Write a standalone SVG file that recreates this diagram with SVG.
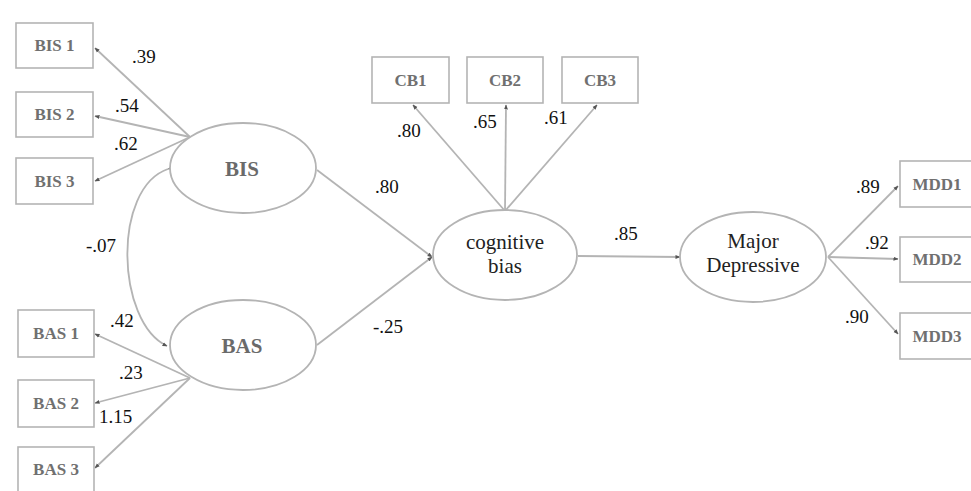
<svg xmlns="http://www.w3.org/2000/svg" width="971" height="491" viewBox="0 0 971 491">
<style>
.box{fill:#fff;stroke:#b4b4b4;stroke-width:1.6}
.ell{fill:#fff;stroke:#b4b4b4;stroke-width:1.8}
.ln{fill:none;stroke:#b4b4b4;stroke-width:1.8}
text{font-family:"Liberation Serif","Times New Roman","DejaVu Serif",serif}
.bl{font-weight:bold;font-size:17px;fill:#707070;text-anchor:middle}
.el{font-weight:bold;font-size:21px;fill:#6a6a6a;text-anchor:middle}
.et{font-size:21px;fill:#222;text-anchor:middle}
.num{font-size:19px;fill:#111}
</style>
<defs>
<marker id="ah" viewBox="0 0 10 10" refX="9" refY="5" markerWidth="5" markerHeight="5" orient="auto" markerUnits="userSpaceOnUse">
<path d="M0,1 L10,5 L0,9 Z" fill="#555"/>
</marker>
</defs>
<rect width="971" height="491" fill="#fff"/>
<g id="connectors">
<path class="ln" d="M190,137 L95,48" marker-end="url(#ah)"/>
<path class="ln" d="M190,137 L95,116" marker-end="url(#ah)"/>
<path class="ln" d="M190,137 L95,181" marker-end="url(#ah)"/>
<path class="ln" d="M190,378 L95,334" marker-end="url(#ah)"/>
<path class="ln" d="M190,378 L95,403" marker-end="url(#ah)"/>
<path class="ln" d="M190,378 L95,468" marker-end="url(#ah)"/>
<path class="ln" d="M168,169 C112,188 116,322 167,346" marker-start="url(#ah)" marker-end="url(#ah)"/>
<path class="ln" d="M317,170 L432,257" marker-end="url(#ah)"/>
<path class="ln" d="M317,345 L432,257" marker-end="url(#ah)"/>
<path class="ln" d="M505,211 L413,105" marker-end="url(#ah)"/>
<path class="ln" d="M505,211 L506,105" marker-end="url(#ah)"/>
<path class="ln" d="M505,211 L597,105" marker-end="url(#ah)"/>
<path class="ln" d="M578,256 L680,257" stroke-width="2.6" marker-end="url(#ah)"/>
<path class="ln" d="M828,257 L898,186" marker-end="url(#ah)"/>
<path class="ln" d="M828,257 L898,259" marker-end="url(#ah)"/>
<path class="ln" d="M828,257 L898,334" marker-end="url(#ah)"/>
</g>
<g id="BIS1"><rect class="box" x="16" y="23" width="77" height="45"/><text class="bl" x="54.5" y="51">BIS 1</text></g>
<g id="BIS2"><rect class="box" x="16" y="92" width="77" height="45"/><text class="bl" x="54.5" y="120">BIS 2</text></g>
<g id="BIS3"><rect class="box" x="16" y="158" width="77" height="46"/><text class="bl" x="54.5" y="187">BIS 3</text></g>
<g id="BAS1"><rect class="box" x="18" y="310" width="76" height="47"/><text class="bl" x="56" y="339">BAS 1</text></g>
<g id="BAS2"><rect class="box" x="18" y="380" width="76" height="47"/><text class="bl" x="56" y="409">BAS 2</text></g>
<g id="BAS3"><rect class="box" x="18" y="447" width="76" height="47"/><text class="bl" x="56" y="475">BAS 3</text></g>
<g id="BIS"><ellipse class="ell" cx="243" cy="168" rx="73" ry="45"/><text class="el" x="242" y="176">BIS</text></g>
<g id="BAS"><ellipse class="ell" cx="243" cy="345" rx="73" ry="45"/><text class="el" x="242" y="353">BAS</text></g>
<g id="CB1"><rect class="box" x="372" y="57" width="77" height="46"/><text class="bl" x="410.5" y="86">CB1</text></g>
<g id="CB2"><rect class="box" x="467" y="57" width="76" height="46"/><text class="bl" x="505" y="86">CB2</text></g>
<g id="CB3"><rect class="box" x="562" y="57" width="76" height="46"/><text class="bl" x="600" y="86">CB3</text></g>
<g id="cognitive"><ellipse class="ell" cx="505" cy="255" rx="72" ry="45"/><text class="et" x="505" y="249">cognitive</text><text class="et" x="505" y="273">bias</text></g>
<g id="major"><ellipse class="ell" cx="753" cy="257" rx="73" ry="45"/><text class="et" x="753" y="248">Major</text><text class="et" x="753" y="272">Depressive</text></g>
<g id="MDD1"><rect class="box" x="900" y="161" width="72" height="46"/><text class="bl" x="937" y="190">MDD1</text></g>
<g id="MDD2"><rect class="box" x="900" y="237" width="72" height="45"/><text class="bl" x="937" y="265">MDD2</text></g>
<g id="MDD3"><rect class="box" x="900" y="313" width="72" height="46"/><text class="bl" x="937" y="342">MDD3</text></g>
<g id="labels">
<text class="num" x="132" y="63">.39</text>
<text class="num" x="115" y="112">.54</text>
<text class="num" x="114" y="150">.62</text>
<text class="num" x="86" y="252">-.07</text>
<text class="num" x="110" y="327">.42</text>
<text class="num" x="119" y="379">.23</text>
<text class="num" x="99" y="423">1.15</text>
<text class="num" x="397" y="137">.80</text>
<text class="num" x="473" y="128">.65</text>
<text class="num" x="544" y="124">.61</text>
<text class="num" x="375" y="193">.80</text>
<text class="num" x="373" y="333">-.25</text>
<text class="num" x="614" y="240">.85</text>
<text class="num" x="856" y="193">.89</text>
<text class="num" x="865" y="249">.92</text>
<text class="num" x="845" y="323">.90</text>
</g>
</svg>
